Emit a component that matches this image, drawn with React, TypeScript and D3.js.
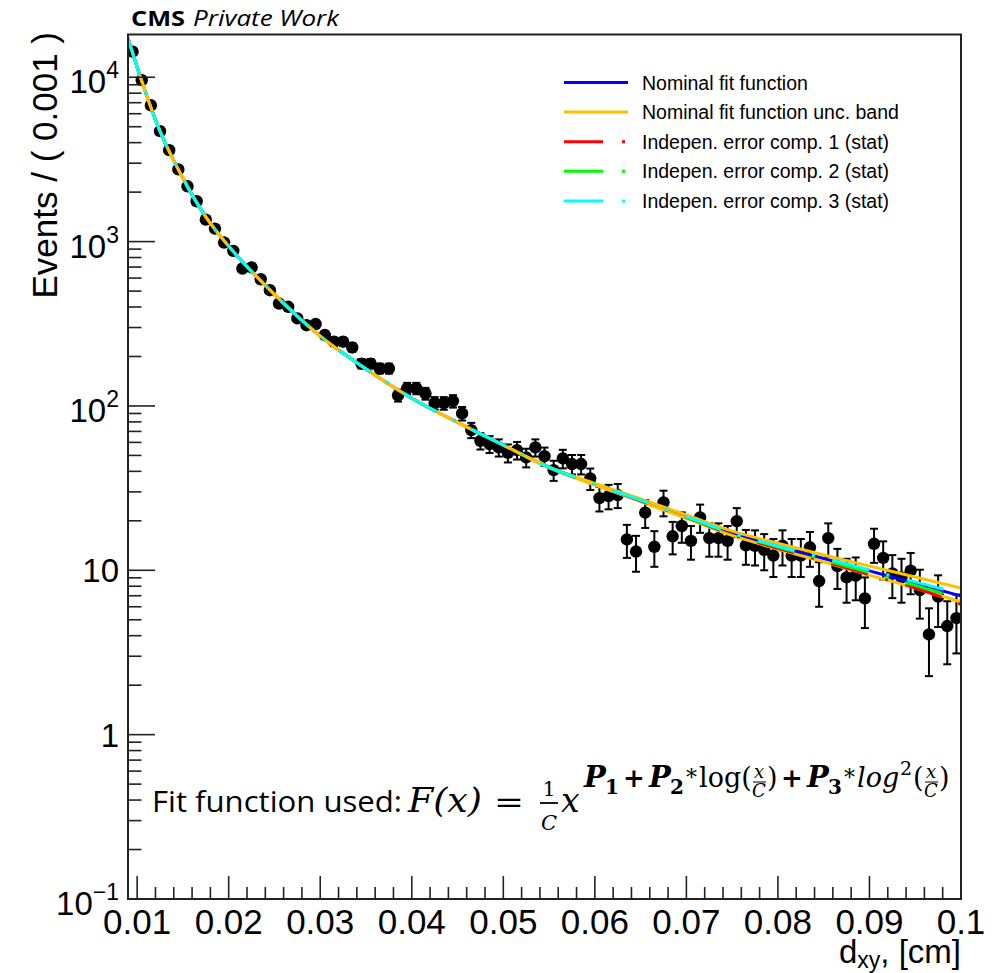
import React from "react";
import * as d3 from "d3";

// ---------- DATA ----------
const binCenters = [
  0.0095, 0.0105, 0.0115, 0.0125, 0.0135, 0.0145, 0.0155, 0.0165, 0.0175, 0.0185,
  0.0195, 0.0205, 0.0215, 0.0225, 0.0235, 0.0245, 0.0255, 0.0265, 0.0275, 0.0285,
  0.0295, 0.0305, 0.0315, 0.0325, 0.0335, 0.0345, 0.0355, 0.0365, 0.0375, 0.0385,
  0.0395, 0.0405, 0.0415, 0.0425, 0.0435, 0.0445, 0.0455, 0.0465, 0.0475, 0.0485,
  0.0495, 0.0505, 0.0515, 0.0525, 0.0535, 0.0545, 0.0555, 0.0565, 0.0575, 0.0585,
  0.0595, 0.0605, 0.0615, 0.0625, 0.0635, 0.0645, 0.0655, 0.0665, 0.0675, 0.0685,
  0.0695, 0.0705, 0.0715, 0.0725, 0.0735, 0.0745, 0.0755, 0.0765, 0.0775, 0.0785,
  0.0795, 0.0805, 0.0815, 0.0825, 0.0835, 0.0845, 0.0855, 0.0865, 0.0875, 0.0885,
  0.0895, 0.0905, 0.0915, 0.0925, 0.0935, 0.0945, 0.0955, 0.0965, 0.0975, 0.0985,
  0.0995,
];

const eventCounts = [
  14300, 9600, 6750, 4700, 3600, 2750, 2170, 1760, 1360, 1200,
  987, 878, 686, 696, 590, 506, 420, 401, 341, 310,
  315, 270, 246, 246, 227, 181, 181, 169, 169, 116,
  128, 128, 119, 104, 104, 107, 90, 71.3, 61.3, 58.6,
  55.9, 51.8, 53.8, 48.6, 55.9, 49.5, 40.7, 47.9, 44.3, 44.3,
  36.2, 27.5, 28.3, 28.7, 15.4, 13.0, 22.4, 13.9, 25.9, 16.1,
  18.6, 15.1, 21.0, 15.7, 15.7, 15.1, 19.9, 14.2, 14.1, 13.3,
  12.3, 14.1, 12.3, 12.3, 13.8, 8.6, 15.7, 10.6, 9.05, 9.27,
  6.75, 14.5, 11.9, 9.57, 9.05, 9.95, 7.58, 4.07, 6.92, 4.58,
  5.12,
];

const eventErrors = [
  108, 88, 74, 62, 54, 47, 42, 38, 33, 31,
  28, 27, 24, 24, 22, 20, 18, 18, 17, 16,
  16, 15, 14, 14, 13.5, 12, 12, 11.7, 11.7, 9.7,
  10.2, 10.2, 9.8, 9.2, 9.2, 9.3, 8.5, 7.6, 7.0, 6.9,
  6.7, 6.5, 6.6, 6.3, 6.7, 6.3, 5.7, 6.2, 6.0, 6.0,
  5.4, 4.7, 4.8, 4.8, 3.5, 3.2, 4.3, 3.4, 4.6, 3.6,
  3.9, 3.5, 4.1, 3.6, 3.6, 3.5, 4.0, 3.4, 3.4, 3.3,
  3.2, 3.4, 3.2, 3.2, 3.3, 2.6, 3.6, 2.9, 2.7, 2.7,
  2.3, 3.4, 3.1, 2.8, 2.7, 2.8, 2.5, 1.8, 2.4, 1.9,
  2.0,
];

const fitX = [0.009, 0.010, 0.0125, 0.015, 0.0175, 0.020, 0.025, 0.030, 0.035, 0.040, 0.045,
  0.050, 0.055, 0.060, 0.065, 0.070, 0.075, 0.080, 0.085, 0.090, 0.095, 0.100];
const nominalFit = [17260, 11500, 4690, 2430, 1413, 938, 477, 266, 168, 111.5, 79.4,
  57.8, 42.3, 33.4, 26.7, 21.2, 16.8, 14.0, 11.8, 9.92, 8.34, 6.97];
const bandUpper = [17260, 11500, 4690, 2430, 1413, 938, 477, 266, 168, 111.5, 79.4,
  57.8, 42.6, 33.8, 27.2, 21.7, 17.3, 14.6, 12.4, 10.6, 9.1, 7.8];
const bandLower = [17260, 11500, 4690, 2430, 1413, 938, 477, 266, 168, 111.5, 79.4,
  57.8, 42.0, 33.0, 26.2, 20.7, 16.3, 13.45, 11.25, 9.35, 7.8, 6.4];
const comp1Stat = [17260, 11500, 4690, 2430, 1413, 938, 477, 266, 168, 111.5, 79.4,
  57.8, 42.3, 33.3, 26.5, 21.0, 16.5, 13.6, 11.35, 9.4, 7.8, 6.2];
const comp2Stat = [17260, 11500, 4690, 2430, 1413, 938, 477, 266, 168, 111.5, 79.4,
  57.8, 42.3, 33.4, 26.7, 21.1, 16.7, 13.85, 11.6, 9.7, 8.1, 6.7];
const comp3Stat = [17260, 11500, 4690, 2430, 1413, 938, 477, 266, 168, 111.5, 79.4,
  57.8, 42.3, 33.4, 26.7, 21.2, 16.85, 14.05, 11.9, 10.05, 8.5, 7.2];

const xMajorTicks = [0.01, 0.02, 0.03, 0.04, 0.05, 0.06, 0.07, 0.08, 0.09, 0.1];
const xTickLabels = ["0.01", "0.02", "0.03", "0.04", "0.05", "0.06", "0.07", "0.08", "0.09", "0.1"];
const yMajorTicks = [0.1, 1, 10, 100, 1000, 10000];
const yTickBase = ["10", "1", "10", "10", "10", "10"];
const yTickExp = ["\u22121", "", "", "2", "3", "4"];

const legendLabels = [
  "Nominal fit function",
  "Nominal fit function unc. band",
  "Indepen. error comp. 1 (stat)",
  "Indepen. error comp. 2 (stat)",
  "Indepen. error comp. 3 (stat)",
];
const legendColors = ["#0000ff", "#ffc000", "#ff0000", "#00ff00", "#00ffff"];
const legendDashed = [false, false, true, true, true];

// ---------- COMPONENT ----------
export default function App() {
  const W = 1007, H = 973;
  const left = 128, right = 961, top = 34.5, bottom = 899;
  const x = d3.scaleLinear().domain([0.009, 0.1]).range([left, right]);
  const y = d3.scaleLog().domain([0.1, 18200]).range([bottom, top]);

  const line = d3
    .line<[number, number]>()
    .x((d) => x(d[0]))
    .y((d) => y(d[1]))
    .curve(d3.curveMonotoneX);
  const path = (vals: number[]) =>
    line(fitX.map((xv, i) => [xv, vals[i]] as [number, number])) || "";

  const xMinor = x.ticks(45).filter((t) => !xMajorTicks.some((m) => Math.abs(m - t) < 1e-9));
  const yMinor = y.ticks().filter((t) => !yMajorTicks.some((m) => Math.abs(m - t) / m < 1e-6));

  const sans = "'Liberation Sans', Arial, Helvetica, sans-serif";
  const serif = "'DejaVu Serif', 'Liberation Serif', serif";
  const office = "'Open Sans', 'Noto Sans', sans-serif";
  const dash = "38 18 3 18";
  const lw = 3;

  const curves = [
    { d: path(nominalFit), c: legendColors[0], dash: undefined },
    { d: path(bandUpper), c: legendColors[1], dash: undefined },
    { d: path(bandLower), c: legendColors[1], dash: undefined },
    { d: path(comp1Stat), c: legendColors[2], dash },
    { d: path(comp2Stat), c: legendColors[3], dash },
    { d: path(comp3Stat), c: legendColors[4], dash },
  ];

  return (
    <svg width={W} height={H} style={{ position: "absolute", left: 0, top: 0, background: "#fff" }}>
      <defs>
        <clipPath id="plotClip">
          <rect x={left} y={top} width={right - left} height={bottom - top} />
        </clipPath>
      </defs>
      <rect x={0} y={0} width={W} height={H} fill="#fff" />

      {/* header */}
      <text x={131} y={26} fontFamily={office} fontSize={22} fontWeight="bold" fill="#000"
        textLength={54} lengthAdjust="spacingAndGlyphs">CMS</text>
      <text x={193} y={26} fontFamily={office} fontSize={22} fontStyle="italic" fill="#000"
        textLength={146} lengthAdjust="spacingAndGlyphs">Private Work</text>

      {/* data error bars */}
      <g stroke="#000" strokeWidth={2} clipPath="url(#plotClip)">
        {binCenters.map((bx, i) => {
          const cx = x(bx);
          const lo = Math.max(eventCounts[i] - eventErrors[i], 0.1);
          const hi = eventCounts[i] + eventErrors[i];
          return (
            <g key={i}>
              <line x1={cx} x2={cx} y1={y(lo)} y2={y(hi)} />
              <line x1={cx - 4} x2={cx + 4} y1={y(lo)} y2={y(lo)} />
              <line x1={cx - 4} x2={cx + 4} y1={y(hi)} y2={y(hi)} />
            </g>
          );
        })}
      </g>
      {/* markers */}
      <g fill="#000" clipPath="url(#plotClip)">
        {binCenters.map((bx, i) => (
          <circle key={i} cx={x(bx)} cy={y(eventCounts[i])} r={6.2} />
        ))}
      </g>

      {/* fit curves */}
      <g fill="none" clipPath="url(#plotClip)">
        {curves.map((c, i) => (
          <path key={i} d={c.d} stroke={c.c} strokeWidth={lw} strokeDasharray={c.dash} />
        ))}
      </g>

      {/* frame */}
      <rect x={left} y={top} width={right - left} height={bottom - top} fill="none" stroke="#222" strokeWidth={2} />

      {/* ticks */}
      <g stroke="#222" strokeWidth={1.6}>
        {xMajorTicks.map((t, i) => (
          <line key={"xM" + i} x1={x(t)} x2={x(t)} y1={bottom} y2={bottom - 23} />
        ))}
        {xMinor.map((t, i) => (
          <line key={"xm" + i} x1={x(t)} x2={x(t)} y1={bottom} y2={bottom - 12} />
        ))}
        {yMajorTicks.map((t, i) => (
          <line key={"yM" + i} x1={left} x2={left + 27} y1={y(t)} y2={y(t)} />
        ))}
        {yMinor.map((t, i) => (
          <line key={"ym" + i} x1={left} x2={left + 13.5} y1={y(t)} y2={y(t)} />
        ))}
      </g>

      {/* x tick labels */}
      <g fontFamily={sans} fontSize={35} fill="#000" textAnchor="middle">
        {xMajorTicks.map((t, i) => (
          <text key={i} x={x(t)} y={934}>{xTickLabels[i]}</text>
        ))}
      </g>
      {/* y tick labels */}
      <g fontFamily={sans} fontSize={33} fill="#000" textAnchor="end">
        {yMajorTicks.map((t, i) => (
          <text key={i} x={119} y={y(t) + (yTickExp[i] ? 16 : 12)}>
            {yTickBase[i]}
            {yTickExp[i] ? (
              <tspan fontSize={23} dy={-15}>{yTickExp[i]}</tspan>
            ) : null}
          </text>
        ))}
      </g>

      {/* axis titles */}
      <text x={961} y={963} fontFamily={sans} fontSize={33} textAnchor="end" fill="#000">
        d<tspan fontSize={23} dy={5}>xy</tspan>
        <tspan dy={-5}>, [cm]</tspan>
      </text>
      <text
        transform="translate(57,32) rotate(-90)"
        fontFamily={sans}
        fontSize={35}
        textAnchor="end"
        fill="#000"
      >
        Events / ( 0.001 )
      </text>

      {/* legend */}
      <g fontFamily={sans} fontSize={19.5} fill="#000">
        {legendLabels.map((lab, i) => {
          const ly = 82.5 + i * 29.6;
          return (
            <g key={i}>
              <line
                x1={564}
                x2={628}
                y1={ly}
                y2={ly}
                stroke={legendColors[i]}
                strokeWidth={3}
                strokeDasharray={legendDashed[i] ? "39 19 3 19" : undefined}
              />
              <text x={642} y={ly + 7}>{lab}</text>
            </g>
          );
        })}
      </g>

      {/* formula annotation */}
      <g fill="#000">
        <text x={152} y={812} fontFamily={office} fontSize={30} textLength={250} lengthAdjust="spacingAndGlyphs">
          Fit function used:
        </text>
        <text x={408} y={812} fontFamily={serif} fontSize={33} fontStyle="italic" textLength={74} lengthAdjust="spacingAndGlyphs">
          F(x)
        </text>
        <text x={494} y={812} fontFamily={serif} fontSize={30} textLength={30} lengthAdjust="spacingAndGlyphs">=</text>
        <text x={549} y={796} fontFamily={serif} fontSize={20} textAnchor="middle">1</text>
        <line x1={540} x2={558} y1={803} y2={803} stroke="#000" strokeWidth={1.8} />
        <text x={549} y={830} fontFamily={serif} fontSize={21} fontStyle="italic" textAnchor="middle">C</text>
        <text x={561} y={812} fontFamily={serif} fontSize={33} fontStyle="italic">x</text>

        <g fontFamily={serif}>
          <text x={584} y={787} fontSize={29} fontStyle="italic" fontWeight="bold">P</text>
          <text x={605} y={794} fontSize={20} fontWeight="bold">1</text>
          <text x={623} y={787} fontSize={26} fontWeight="bold">+</text>
          <text x={649} y={787} fontSize={29} fontStyle="italic" fontWeight="bold">P</text>
          <text x={670} y={794} fontSize={20} fontWeight="bold">2</text>
          <text x={686} y={785} fontSize={22}>*</text>
          <text x={699} y={787} fontSize={27}>log(</text>
          <text x={759} y={778} fontSize={18} fontStyle="italic" textAnchor="middle">x</text>
          <line x1={753} x2={766} y1={782} y2={782} stroke="#000" strokeWidth={1} />
          <text x={759} y={797} fontSize={18} fontStyle="italic" textAnchor="middle">C</text>
          <text x={767} y={787} fontSize={27}>)</text>
          <text x={781} y={787} fontSize={26} fontWeight="bold">+</text>
          <text x={807} y={787} fontSize={29} fontStyle="italic" fontWeight="bold">P</text>
          <text x={828} y={794} fontSize={20} fontWeight="bold">3</text>
          <text x={844} y={785} fontSize={22}>*</text>
          <text x={857} y={787} fontSize={27} fontStyle="italic">log</text>
          <text x={900} y={775} fontSize={19}>2</text>
          <text x={913} y={787} fontSize={27}>(</text>
          <text x={931} y={778} fontSize={18} fontStyle="italic" textAnchor="middle">x</text>
          <line x1={925} x2={938} y1={782} y2={782} stroke="#000" strokeWidth={1} />
          <text x={931} y={797} fontSize={18} fontStyle="italic" textAnchor="middle">C</text>
          <text x={939} y={787} fontSize={27}>)</text>
        </g>
      </g>
    </svg>
  );
}
